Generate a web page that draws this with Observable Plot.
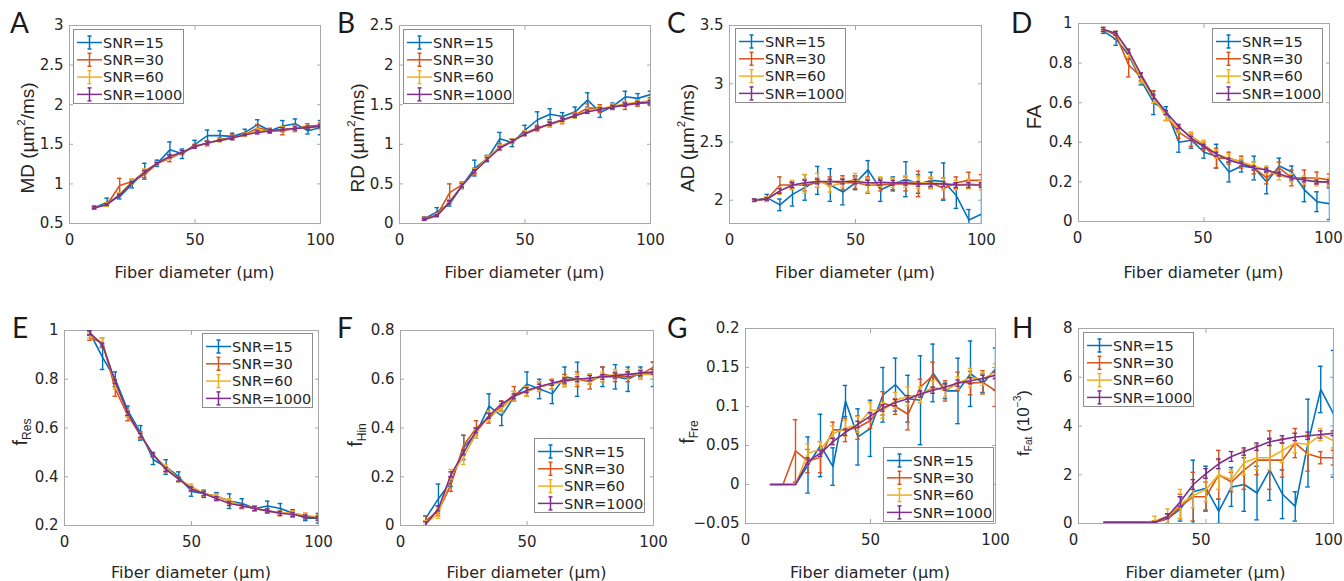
<!DOCTYPE html>
<html><head><meta charset="utf-8">
<script src="https://cdn.jsdelivr.net/npm/d3@7"></script>
<script src="https://cdn.jsdelivr.net/npm/@observablehq/plot@0.6"></script>
<style>
html,body{margin:0;padding:0;background:#fff;}
#root{position:relative;width:1344px;height:581px;overflow:hidden;background:#fff;font-family:"DejaVu Sans",sans-serif;color:#262626;}
.letter{position:absolute;font-family:Lato,"Open Sans",sans-serif;font-size:28px;line-height:28px;color:#1a1a1a;}
.xlab,.ylab{position:absolute;white-space:nowrap;color:#262626;}
.xlab{font-size:16px;line-height:16px;transform:translate(-50%,-50%);}
.ylab{font-family:"Liberation Sans",Arial,sans-serif;line-height:1;transform:translate(-50%,-50%) rotate(-90deg);}
sub{font-size:0.6em;vertical-align:-0.3em;line-height:0;}
sup{font-size:0.6em;vertical-align:0.75em;line-height:0;}
</style>
</head><body><div id="root"></div>
<script>
// ---------- data ----------
const fiberDiameter = [10,15,20,25,30,35,40,45,50,55,60,65,70,75,80,85,90,95,100];
const snrLabels = ["SNR=15","SNR=30","SNR=60","SNR=1000"];
const snrColors = ["#0072BD","#D95319","#EDB120","#7E2F8E"];

// order of series in each array: SNR=15, SNR=30, SNR=60, SNR=1000
const MD_mean = [
  [0.70,0.77,0.84,1.00,1.16,1.26,1.43,1.38,1.50,1.61,1.61,1.60,1.65,1.75,1.67,1.73,1.76,1.67,1.71],
  [0.70,0.74,0.98,1.03,1.12,1.26,1.32,1.40,1.48,1.51,1.56,1.59,1.62,1.71,1.67,1.67,1.70,1.73,1.74],
  [0.70,0.74,0.87,1.03,1.16,1.26,1.34,1.40,1.47,1.52,1.55,1.58,1.62,1.67,1.67,1.69,1.70,1.71,1.72],
  [0.70,0.74,0.86,1.02,1.15,1.26,1.35,1.40,1.47,1.52,1.55,1.58,1.62,1.65,1.67,1.69,1.70,1.71,1.73]];
const MD_err = [
  [0.02,0.05,0.03,0.05,0.10,0.04,0.10,0.06,0.05,0.07,0.06,0.04,0.04,0.06,0.03,0.07,0.06,0.04,0.09],
  [0.02,0.02,0.09,0.03,0.04,0.02,0.04,0.03,0.02,0.03,0.02,0.03,0.02,0.04,0.03,0.05,0.04,0.03,0.03],
  [0.01,0.02,0.02,0.03,0.03,0.02,0.03,0.02,0.02,0.02,0.02,0.02,0.02,0.03,0.02,0.03,0.03,0.02,0.03],
  [0.01,0.01,0.01,0.01,0.02,0.01,0.02,0.02,0.02,0.02,0.01,0.02,0.01,0.02,0.02,0.02,0.02,0.02,0.02]];

const RD_mean = [
  [0.06,0.15,0.25,0.48,0.70,0.82,1.07,1.02,1.18,1.31,1.38,1.35,1.41,1.56,1.40,1.48,1.60,1.58,1.63],
  [0.06,0.11,0.39,0.49,0.66,0.82,0.97,1.04,1.14,1.21,1.25,1.30,1.37,1.46,1.45,1.47,1.49,1.52,1.53],
  [0.05,0.10,0.28,0.48,0.66,0.83,0.96,1.04,1.14,1.19,1.26,1.30,1.36,1.43,1.45,1.48,1.51,1.53,1.55],
  [0.05,0.10,0.27,0.48,0.66,0.81,0.95,1.04,1.13,1.20,1.26,1.31,1.36,1.41,1.44,1.47,1.50,1.52,1.53]];
const RD_err = [
  [0.02,0.05,0.03,0.04,0.10,0.04,0.08,0.05,0.06,0.10,0.07,0.05,0.06,0.09,0.06,0.04,0.07,0.06,0.04],
  [0.02,0.02,0.11,0.03,0.04,0.03,0.04,0.03,0.03,0.03,0.03,0.04,0.03,0.05,0.05,0.03,0.05,0.04,0.04],
  [0.01,0.02,0.02,0.03,0.03,0.02,0.03,0.03,0.03,0.03,0.03,0.03,0.03,0.03,0.03,0.03,0.03,0.03,0.03],
  [0.01,0.01,0.02,0.02,0.02,0.02,0.02,0.02,0.02,0.02,0.02,0.02,0.02,0.02,0.02,0.02,0.02,0.02,0.02]];

const AD_mean = [
  [2.00,2.02,1.96,2.05,2.11,2.17,2.13,2.07,2.15,2.26,2.09,2.14,2.18,2.14,2.17,2.16,2.04,1.83,1.88],
  [2.00,2.01,2.13,2.13,2.13,2.15,2.16,2.15,2.15,2.13,2.13,2.14,2.14,2.14,2.15,2.10,2.15,2.17,2.17],
  [2.00,2.01,2.08,2.13,2.14,2.17,2.12,2.15,2.18,2.13,2.16,2.15,2.16,2.15,2.15,2.14,2.13,2.14,2.13],
  [2.00,2.01,2.08,2.13,2.15,2.16,2.16,2.16,2.16,2.15,2.15,2.15,2.15,2.14,2.14,2.14,2.13,2.13,2.13]];
const AD_err = [
  [0.01,0.03,0.05,0.10,0.11,0.12,0.14,0.11,0.06,0.08,0.10,0.06,0.15,0.08,0.07,0.16,0.11,0.09,0.26],
  [0.01,0.02,0.07,0.03,0.05,0.04,0.04,0.06,0.05,0.07,0.05,0.05,0.06,0.11,0.04,0.09,0.05,0.07,0.05],
  [0.01,0.02,0.03,0.04,0.08,0.06,0.05,0.04,0.05,0.06,0.04,0.04,0.05,0.05,0.05,0.05,0.04,0.04,0.04],
  [0.01,0.01,0.02,0.02,0.02,0.02,0.02,0.02,0.02,0.02,0.02,0.02,0.02,0.02,0.02,0.02,0.02,0.02,0.02]];

const FA_mean = [
  [0.96,0.92,0.84,0.71,0.60,0.56,0.40,0.41,0.35,0.33,0.25,0.28,0.27,0.20,0.28,0.25,0.16,0.10,0.09],
  [0.97,0.94,0.79,0.73,0.63,0.53,0.45,0.41,0.38,0.32,0.32,0.30,0.27,0.22,0.27,0.22,0.22,0.22,0.21],
  [0.97,0.95,0.85,0.72,0.62,0.53,0.47,0.43,0.39,0.34,0.32,0.30,0.28,0.26,0.23,0.22,0.21,0.20,0.20],
  [0.97,0.95,0.86,0.74,0.63,0.55,0.48,0.42,0.38,0.34,0.31,0.29,0.27,0.26,0.24,0.22,0.21,0.20,0.20]];
const FA_err = [
  [0.01,0.03,0.02,0.02,0.06,0.02,0.05,0.04,0.03,0.06,0.05,0.03,0.06,0.06,0.04,0.03,0.06,0.05,0.08],
  [0.01,0.02,0.06,0.02,0.03,0.02,0.03,0.03,0.02,0.05,0.03,0.03,0.03,0.03,0.03,0.04,0.04,0.03,0.03],
  [0.01,0.01,0.02,0.02,0.02,0.02,0.02,0.02,0.02,0.02,0.02,0.02,0.02,0.02,0.02,0.02,0.02,0.02,0.02],
  [0.01,0.01,0.01,0.01,0.01,0.01,0.01,0.01,0.01,0.01,0.01,0.01,0.01,0.01,0.01,0.01,0.01,0.01,0.01]];

const fRes_mean = [
  [0.99,0.89,0.80,0.67,0.58,0.47,0.44,0.40,0.34,0.33,0.32,0.30,0.29,0.27,0.28,0.27,0.25,0.23,0.23],
  [0.97,0.95,0.76,0.65,0.57,0.49,0.43,0.39,0.35,0.33,0.32,0.30,0.28,0.27,0.26,0.25,0.25,0.24,0.23],
  [0.98,0.95,0.78,0.66,0.57,0.49,0.44,0.39,0.36,0.33,0.32,0.30,0.28,0.27,0.26,0.25,0.25,0.24,0.235],
  [0.99,0.94,0.79,0.66,0.57,0.49,0.43,0.39,0.35,0.33,0.31,0.29,0.28,0.27,0.26,0.25,0.245,0.235,0.23]];
const fRes_err = [
  [0.01,0.05,0.03,0.02,0.03,0.02,0.03,0.02,0.02,0.015,0.015,0.03,0.02,0.01,0.02,0.02,0.015,0.01,0.02],
  [0.01,0.02,0.03,0.02,0.015,0.01,0.01,0.01,0.01,0.01,0.01,0.01,0.01,0.01,0.01,0.01,0.01,0.01,0.01],
  [0.01,0.02,0.02,0.015,0.01,0.01,0.01,0.01,0.01,0.01,0.01,0.01,0.01,0.01,0.01,0.01,0.01,0.01,0.01],
  [0.008,0.008,0.008,0.008,0.008,0.008,0.008,0.008,0.008,0.008,0.008,0.008,0.008,0.008,0.008,0.008,0.008,0.008,0.008]];

const fHin_mean = [
  [0.03,0.11,0.18,0.32,0.38,0.49,0.45,0.53,0.58,0.56,0.54,0.61,0.60,0.60,0.61,0.61,0.60,0.63,0.62],
  [0.02,0.06,0.17,0.33,0.40,0.44,0.49,0.54,0.55,0.57,0.58,0.60,0.60,0.59,0.62,0.61,0.61,0.62,0.65],
  [0.01,0.05,0.21,0.28,0.38,0.45,0.48,0.53,0.55,0.57,0.58,0.59,0.60,0.60,0.61,0.62,0.62,0.62,0.62],
  [0.005,0.07,0.21,0.30,0.39,0.45,0.50,0.53,0.555,0.57,0.585,0.595,0.60,0.605,0.61,0.615,0.62,0.625,0.63]];
const fHin_err = [
  [0.01,0.06,0.02,0.05,0.02,0.05,0.04,0.02,0.05,0.04,0.04,0.04,0.07,0.02,0.04,0.05,0.05,0.02,0.05],
  [0.02,0.02,0.03,0.04,0.03,0.02,0.02,0.03,0.02,0.02,0.02,0.02,0.03,0.03,0.03,0.02,0.02,0.02,0.02],
  [0.01,0.02,0.02,0.03,0.02,0.02,0.02,0.02,0.02,0.02,0.02,0.02,0.02,0.02,0.02,0.02,0.02,0.02,0.02],
  [0.01,0.01,0.01,0.01,0.01,0.01,0.01,0.01,0.01,0.01,0.01,0.01,0.01,0.01,0.01,0.01,0.01,0.01,0.01]];

const fFre_mean = [
  [0,0,0,0.025,0.05,0.023,0.107,0.061,0.072,0.115,0.128,0.11,0.108,0.143,0.12,0.12,0.142,0.13,0.148],
  [0,0,0.043,0.03,0.035,0.07,0.07,0.073,0.082,0.104,0.10,0.09,0.125,0.14,0.12,0.132,0.13,0.131,0.12],
  [0,0,0,0.04,0.045,0.065,0.072,0.077,0.095,0.095,0.108,0.113,0.115,0.125,0.12,0.13,0.137,0.135,0.145],
  [0,0,0,0.03,0.04,0.055,0.067,0.077,0.088,0.098,0.105,0.11,0.116,0.121,0.125,0.13,0.133,0.136,0.14]];
const fFre_err = [
  [0,0,0,0.036,0.04,0.024,0.02,0.036,0.036,0.035,0.034,0.03,0.057,0.037,0.01,0.042,0.042,0.012,0.027],
  [0,0,0.04,0.015,0.02,0.01,0.015,0.015,0.01,0.015,0.01,0.02,0.01,0.017,0.013,0.012,0.015,0.015,0.02],
  [0,0,0,0.012,0.01,0.01,0.01,0.01,0.01,0.01,0.01,0.012,0.01,0.008,0.008,0.008,0.012,0.008,0.01],
  [0,0,0,0.004,0.004,0.004,0.004,0.004,0.004,0.004,0.004,0.004,0.004,0.004,0.004,0.004,0.004,0.004,0.004]];

const fFat_mean = [
  [0.05,0.05,0.05,0.05,0.05,0.2,0.6,1.3,1.45,0.5,1.5,1.6,1.25,2.2,1.2,0.7,3.3,5.5,4.5],
  [0.05,0.05,0.05,0.05,0.05,0.2,0.7,1.1,1.1,2.0,1.7,2.2,2.6,2.6,2.6,3.3,2.85,2.7,2.7],
  [0.05,0.05,0.05,0.05,0.1,0.3,0.8,1.15,1.4,2.0,1.8,2.5,2.7,2.7,3.0,3.3,3.25,3.65,3.4],
  [0.05,0.05,0.05,0.05,0.05,0.3,0.9,1.6,2.05,2.45,2.75,2.95,3.15,3.35,3.45,3.55,3.6,3.65,3.7]];
const fFat_err = [
  [0,0,0,0,0.05,0.2,0.5,1.3,0.9,0.5,0.8,1.1,1.1,1.25,1.0,0.6,1.8,0.95,2.6],
  [0,0,0,0,0.05,0.2,0.5,1.0,0.6,1.0,0.4,0.8,0.6,1.2,0.7,0.6,0.7,0.25,0.3],
  [0,0,0,0,0.2,0.3,0.6,0.5,0.5,0.6,0.4,0.5,0.5,0.5,0.5,0.4,0.4,0.25,0.3],
  [0,0,0,0,0.02,0.1,0.2,0.2,0.2,0.2,0.2,0.15,0.15,0.15,0.15,0.15,0.15,0.15,0.1]];

const xTicks = [0,50,100];
const xTitle = "Fiber diameter (µm)";

// ---------- layout ----------
const panels = [
  {letter:"A", mean:MD_mean, err:MD_err, ydom:[0.5,3], yticks:[0.5,1,1.5,2,2.5,3], ylabel:"MD (µm<sup>2</sup>/ms)", ylabSize:19,
   frame:[69,25,320,223], letterPos:[10,8], ylab:[27,138], xlabY:273, legend:[73,29], xdx:0},
  {letter:"B", mean:RD_mean, err:RD_err, ydom:[0,2.5], yticks:[0,0.5,1,1.5,2,2.5], ylabel:"RD (µm<sup>2</sup>/ms)", ylabSize:19,
   frame:[399,25,650,223], letterPos:[337,8], ylab:[357,138], xlabY:273, legend:[403,29], xdx:0},
  {letter:"C", mean:AD_mean, err:AD_err, ydom:[1.8,3.5], yticks:[2,2.5,3,3.5], ylabel:"AD (µm<sup>2</sup>/ms)", ylabSize:19,
   frame:[729,25,981,223], letterPos:[667,8], ylab:[687,138], xlabY:273, legend:[735,28], xdx:0},
  {letter:"D", mean:FA_mean, err:FA_err, ydom:[0,1], yticks:[0,0.2,0.4,0.6,0.8,1], ylabel:"FA", ylabSize:20,
   frame:[1078,23,1329,221], letterPos:[1011,8], ylab:[1034,117], xlabY:273, legend:[1212,28], xdx:-1},
  {letter:"E", mean:fRes_mean, err:fRes_err, ydom:[0.2,1], yticks:[0.2,0.4,0.6,0.8,1], ylabel:"f<sub>Res</sub>", ylabSize:20,
   frame:[64,330,318,525], letterPos:[12,313], ylab:[20,432], xlabY:573, legend:[202,333], xdx:0},
  {letter:"F", mean:fHin_mean, err:fHin_err, ydom:[0,0.8], yticks:[0,0.2,0.4,0.6,0.8], ylabel:"f<sub>Hin</sub>", ylabSize:20,
   frame:[400,330,653,525], letterPos:[337,313], ylab:[355,435], xlabY:573, legend:[534,438], xdx:0},
  {letter:"G", mean:fFre_mean, err:fFre_err, ydom:[-0.05,0.2], yticks:[-0.05,0,0.05,0.1,0.15,0.2], ylabel:"f<sub>Fre</sub>", ylabSize:20,
   frame:[745,328,995,523], letterPos:[667,313], ylab:[687,432], xlabY:573, legend:[883,447], xdx:0},
  {letter:"H", mean:fFat_mean, err:fFat_err, ydom:[0,8], yticks:[0,2,4,6,8], ylabel:"f<sub>Fat</sub> (10<sup>−3</sup>)", ylabSize:17,
   frame:[1078,328,1333,523], letterPos:[1012,313], ylab:[1023,423], xlabY:573, legend:[1083,332], xdx:-5}
];

const root = document.getElementById("root");
const ML = 50, MR = 10, MT = 10, MB = 32;
const fmt = d => (d < 0 ? "\u2212" : "") + String(Math.abs(d));

function seriesRows(mean, err, s) {
  return mean[s].map((v, i) => ({x: fiberDiameter[i], y: v, e: err[s][i]}));
}

for (const p of panels) {
  const [fl, ft, fr, fb] = p.frame;
  const W = fr - fl + ML + MR, H = fb - ft + MT + MB;
  const marks = [];
  for (let s = 0; s < 4; s++) {
    const rows = seriesRows(p.mean, p.err, s);
    const eb = rows.filter(d => d.e > 0);
    const c = snrColors[s];
    marks.push(
      Plot.ruleX(eb, {x: "x", y1: d => d.y - d.e, y2: d => d.y + d.e, stroke: c, strokeWidth: 1.4, clip: true}),
      Plot.ruleY(eb, {y: d => d.y + d.e, x1: d => d.x - 0.9, x2: d => d.x + 0.9, stroke: c, strokeWidth: 1.4, clip: true}),
      Plot.ruleY(eb, {y: d => d.y - d.e, x1: d => d.x - 0.9, x2: d => d.x + 0.9, stroke: c, strokeWidth: 1.4, clip: true}),
      Plot.line(rows, {x: "x", y: "y", stroke: c, strokeWidth: 1.6, clip: true})
    );
  }
  const chart = Plot.plot({
    width: W, height: H,
    marginLeft: ML, marginRight: MR, marginTop: MT, marginBottom: MB,
    style: {fontFamily: "'DejaVu Sans', sans-serif", fontSize: "15px", color: "#262626", background: "transparent", overflow: "visible"},
    x: {domain: [0, 100]},
    y: {domain: p.ydom},
    marks: [
      Plot.frame({stroke: "#a8a8a8", strokeWidth: 1}),
      Plot.axisX({ticks: xTicks, tickSize: 0, tickPadding: 11, tickFormat: fmt, label: null, fill: "#262626", dx: p.xdx}),
      Plot.axisX({ticks: xTicks, tickSize: -4, tickFormat: () => "", label: null, stroke: "#a8a8a8"}),
      Plot.axisX({ticks: xTicks, anchor: "top", tickSize: -4, tickFormat: () => "", label: null, stroke: "#a8a8a8"}),
      Plot.axisY({ticks: p.yticks, tickSize: 0, tickPadding: 6, tickFormat: fmt, label: null, fill: "#262626"}),
      Plot.axisY({ticks: p.yticks, tickSize: -4, tickFormat: () => "", label: null, stroke: "#a8a8a8"}),
      Plot.axisY({ticks: p.yticks, anchor: "right", tickSize: -4, tickFormat: () => "", label: null, stroke: "#a8a8a8"}),
      ...marks
    ]
  });
  chart.style.position = "absolute";
  chart.style.left = (fl - ML) + "px";
  chart.style.top = (ft - MT) + "px";
  root.appendChild(chart);

  // panel letter
  const L = document.createElement("div");
  L.className = "letter"; L.textContent = p.letter;
  L.style.left = p.letterPos[0] + "px"; L.style.top = p.letterPos[1] + "px";
  root.appendChild(L);

  // axis titles
  const xl = document.createElement("div");
  xl.className = "xlab"; xl.textContent = xTitle;
  xl.style.left = ((fl + fr) / 2) + "px"; xl.style.top = p.xlabY + "px";
  root.appendChild(xl);
  const yl = document.createElement("div");
  yl.className = "ylab"; yl.innerHTML = p.ylabel;
  yl.style.fontSize = p.ylabSize + "px";
  yl.style.left = p.ylab[0] + "px"; yl.style.top = p.ylab[1] + "px";
  root.appendChild(yl);

  // legend
  const lw = 111, lh = 75;
  const svg = d3.select(root).append("svg")
    .attr("width", lw).attr("height", lh)
    .style("position", "absolute").style("left", p.legend[0] + "px").style("top", p.legend[1] + "px");
  svg.append("rect").attr("x", 0.5).attr("y", 0.5).attr("width", lw - 1).attr("height", lh - 1)
    .attr("fill", "#fff").attr("stroke", "#8c8c8c");
  snrLabels.forEach((lab, i) => {
    const cy = 13.5 + i * 17.3, c = snrColors[i];
    const g = svg.append("g").attr("stroke", c).attr("stroke-width", 1.5);
    g.append("line").attr("x1", 4).attr("x2", 29).attr("y1", cy).attr("y2", cy);
    g.append("line").attr("x1", 16.5).attr("x2", 16.5).attr("y1", cy - 6.5).attr("y2", cy + 6.5);
    g.append("line").attr("x1", 14.5).attr("x2", 18.5).attr("y1", cy - 6.5).attr("y2", cy - 6.5);
    g.append("line").attr("x1", 14.5).attr("x2", 18.5).attr("y1", cy + 6.5).attr("y2", cy + 6.5);
    svg.append("text").attr("x", 30).attr("y", cy).attr("dy", "0.36em")
      .attr("font-family", "'DejaVu Sans', sans-serif").attr("font-size", 14.5).attr("fill", "#262626").text(lab);
  });
}
</script>
</body></html>
